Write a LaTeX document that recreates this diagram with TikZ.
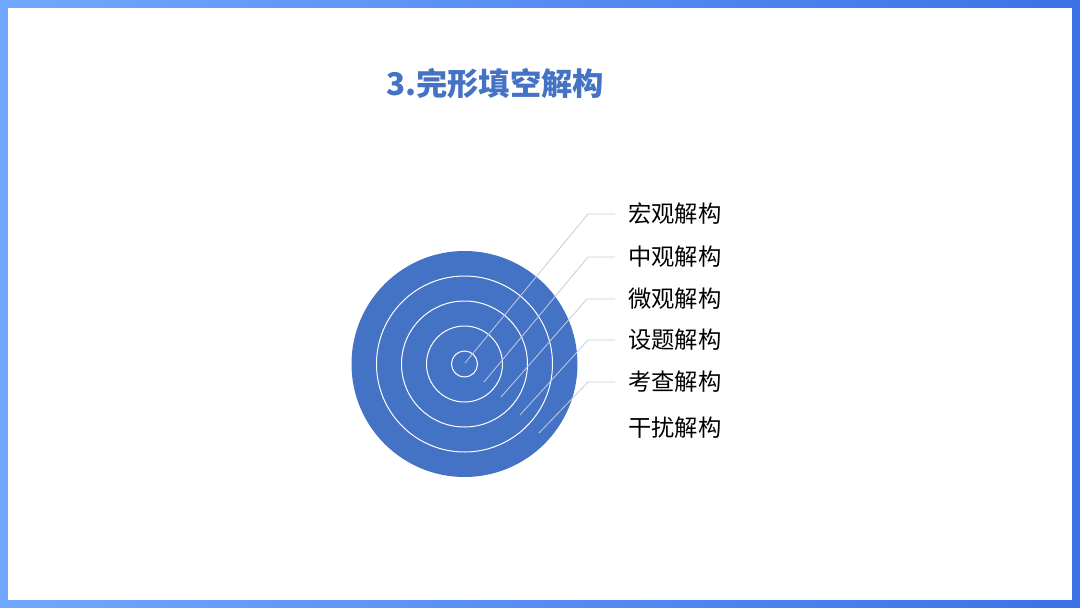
\documentclass[tikz,border=0pt]{standalone}
\usepackage{fontspec}
\usepackage{xcolor}
\usepackage{tikz}
\usetikzlibrary{positioning}
\newfontfamily\cjk{Noto Sans CJK SC}
\definecolor{ringblue}{HTML}{4472C4}
\definecolor{frameleft}{HTML}{70A8FF}
\definecolor{frameright}{HTML}{3D72E6}
\definecolor{leadgrey}{HTML}{C5CEE0}

\begin{document}
\begin{tikzpicture}[x=1pt,y=-1pt,
            lbl/.style={anchor=west,inner sep=0pt,font=\cjk\fontsize{23.3}{23.3}\selectfont},
            lead/.style={leadgrey,line width=0.8pt}]
            \useasboundingbox (0,0) rectangle (1080,608);
            \shade [left color=frameleft,right color=frameright](0,0) rectangle (1080,608);
            \fill [white](8,8) rectangle (1072,600);
            \node (title) [inner sep=0pt,text=ringblue,font=\cjk\bfseries\fontsize{31.3}{31.3}\selectfont] at (495,84) {3.完形填空解构};
            \fill [ringblue](464.5,364) circle (113pt);
            \foreach \r in {88,63,38,13}
                \draw [white,line width=1pt](464.5,364) circle (\r pt);
            \node (m1) [lbl] at (628,214) {宏观解构};
            \node (m2) [lbl] at (628,257) {中观解构};
            \node (m3) [lbl] at (628,299) {微观解构};
            \node (m4) [lbl] at (628,340) {设题解构};
            \node (m5) [lbl] at (628,382) {考查解构};
            \node (m6) [lbl] at (628,428) {干扰解构};
            \coordinate (s1) at (465,363);
            \coordinate (s2) at (484,382);
            \coordinate (s3) at (501,397);
            \coordinate (s4) at (520,415);
            \coordinate (s5) at (539,433);
            \coordinate (b1) at (588,214);
            \coordinate (b2) at (588,257);
            \coordinate (b3) at (587,299);
            \coordinate (b4) at (588,340);
            \coordinate (b5) at (588,382);
            \draw [lead](s1)--(b1)--([xshift=-13pt]m1.west);
            \draw [lead](s2)--(b2)--([xshift=-13pt]m2.west);
            \draw [lead](s3)--(b3)--([xshift=-13pt]m3.west);
            \draw [lead](s4)--(b4)--([xshift=-13pt]m4.west);
            \draw [lead](s5)--(b5)--([xshift=-13pt]m5.west);
            \end{tikzpicture}
\end{document}
